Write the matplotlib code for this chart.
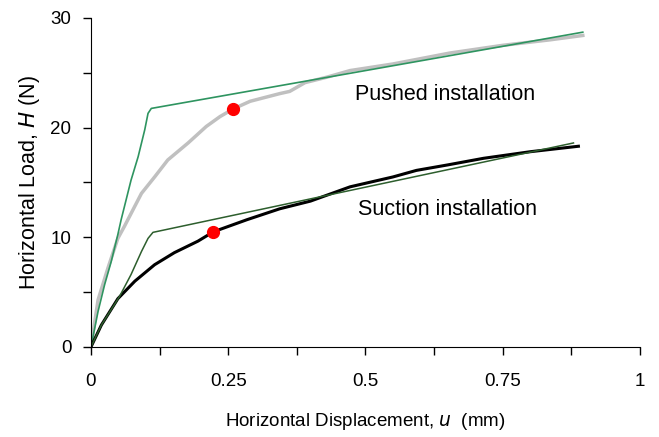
import numpy as np
import matplotlib.pyplot as plt
from matplotlib.ticker import MultipleLocator, FixedLocator

plt.rcParams['font.family'] = ['Liberation Sans', 'DejaVu Sans']

# pushed installation: measured curve and bilinear fit
push_u = [0, 0.013, 0.031, 0.049, 0.061, 0.092, 0.116, 0.14, 0.177, 0.21, 0.235,
          0.259, 0.29, 0.344, 0.362, 0.39, 0.43, 0.472, 0.55, 0.654, 0.75,
          0.836, 0.896]
push_H = [0, 4.3, 7.2, 9.9, 11.0, 14.0, 15.5, 17.05, 18.6, 20.1, 21.0,
          21.7, 22.4, 23.1, 23.3, 24.1, 24.6, 25.2, 25.8, 26.8, 27.5,
          28.0, 28.4]
push_fit_u = [0, 0.013, 0.025, 0.037, 0.049, 0.055, 0.073, 0.086, 0.098, 0.104,
              0.11, 0.896]
push_fit_H = [0, 3.25, 5.7, 7.8, 10.25, 11.6, 15.2, 17.35, 19.8, 21.3,
              21.75, 28.7]

# suction installation
suc_u = [0, 0.019, 0.049, 0.08, 0.116, 0.152, 0.195, 0.223, 0.284, 0.344, 0.40,
         0.472, 0.55, 0.593, 0.65, 0.715, 0.8, 0.888]
suc_H = [0, 2.0, 4.4, 6.0, 7.5, 8.6, 9.65, 10.5, 11.6, 12.6, 13.3,
         14.6, 15.5, 16.1, 16.6, 17.2, 17.8, 18.3]
suc_fit_u = [0, 0.019, 0.052, 0.073, 0.092, 0.104, 0.113, 0.879]
suc_fit_H = [0, 2.0, 4.6, 6.6, 8.7, 9.9, 10.45, 18.6]

# yield points
yield_u = [0.259, 0.223]
yield_H = [21.7, 10.5]

fig = plt.figure(figsize=(6.59, 4.37), dpi=100)
ax = fig.add_axes([0.138, 0.206, 0.833, 0.753])

ax.plot(push_u, push_H, color='#c0c0c0', lw=2.5)
ax.plot(push_fit_u, push_fit_H, color='#2e9460', lw=1.2)
ax.plot(suc_u, suc_H, color='black', lw=2.2)
ax.plot(suc_fit_u, suc_fit_H, color='#2d5e2d', lw=1.1)
ax.plot(yield_u, yield_H, 'o', color='red', ms=8.5, zorder=5)

ax.text(0.645, 23.0, 'Pushed installation', fontsize=15.5, ha='center', va='center')
ax.text(0.65, 12.5, 'Suction installation', fontsize=15.5, ha='center', va='center')

ax.set_xlim(0, 1)
ax.set_ylim(0, 30)
ax.xaxis.set_major_locator(FixedLocator([0, 0.25, 0.5, 0.75, 1]))
ax.set_xticklabels(['0', '0.25', '0.5', '0.75', '1'])
ax.xaxis.set_minor_locator(MultipleLocator(0.125))
ax.yaxis.set_major_locator(MultipleLocator(10))
ax.yaxis.set_minor_locator(MultipleLocator(5))
ax.tick_params(which='both', direction='out', length=6, width=1, labelsize=13.5)
ax.tick_params(axis='y', pad=8)
ax.tick_params(axis='x', pad=13)
for s in ['top', 'right']:
    ax.spines[s].set_visible(False)

ax.set_xlabel('Horizontal Displacement, $\\it{u}$  (mm)', fontsize=13.5, labelpad=15)
ax.set_ylabel('Horizontal Load, $\\it{H}$ (N)', fontsize=15.5, labelpad=6)

fig.savefig('out.png', dpi=100)
